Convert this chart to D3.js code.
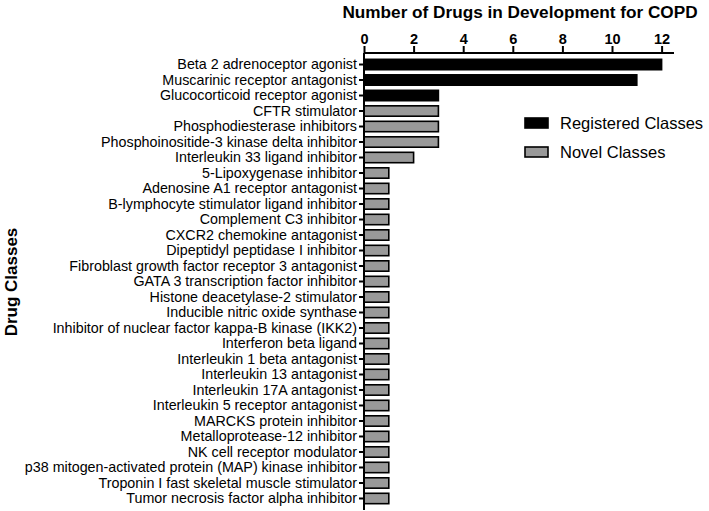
<html>
<head>
<script src="https://cdn.jsdelivr.net/npm/d3@7"></script>
<style>
  body { margin: 0; background: #fff; }
  text { font-family: "Liberation Sans", Arial, sans-serif; }
</style>
</head>
<body>
<svg width="709" height="511"></svg>
<script>
const categories = [
  "Beta 2 adrenoceptor agonist",
  "Muscarinic receptor antagonist",
  "Glucocorticoid receptor agonist",
  "CFTR stimulator",
  "Phosphodiesterase inhibitors",
  "Phosphoinositide-3 kinase delta inhibitor",
  "Interleukin 33 ligand inhibitor",
  "5-Lipoxygenase inhibitor",
  "Adenosine A1 receptor antagonist",
  "B-lymphocyte stimulator ligand inhibitor",
  "Complement C3 inhibitor",
  "CXCR2 chemokine antagonist",
  "Dipeptidyl peptidase I inhibitor",
  "Fibroblast growth factor receptor 3 antagonist",
  "GATA 3 transcription factor inhibitor",
  "Histone deacetylase-2 stimulator",
  "Inducible nitric oxide synthase",
  "Inhibitor of nuclear factor kappa-B kinase (IKK2)",
  "Interferon beta ligand",
  "Interleukin 1 beta antagonist",
  "Interleukin 13 antagonist",
  "Interleukin 17A antagonist",
  "Interleukin 5 receptor antagonist",
  "MARCKS protein inhibitor",
  "Metalloprotease-12 inhibitor",
  "NK cell receptor modulator",
  "p38 mitogen-activated protein (MAP) kinase inhibitor",
  "Troponin I fast skeletal muscle stimulator",
  "Tumor necrosis factor alpha inhibitor"
]
const counts = [12, 11, 3, 3, 3, 3, 2, 1, 1, 1, 1, 1, 1, 1, 1, 1, 1, 1, 1, 1, 1, 1, 1, 1, 1, 1, 1, 1, 1]
const classType = ["Registered", "Registered", "Registered",
  "Novel", "Novel", "Novel", "Novel", "Novel", "Novel", "Novel", "Novel", "Novel", "Novel", "Novel", "Novel",
  "Novel", "Novel", "Novel", "Novel", "Novel", "Novel", "Novel", "Novel", "Novel", "Novel", "Novel", "Novel",
  "Novel", "Novel"]
const xTicks = [0, 2, 4, 6, 8, 10, 12]
const legendKeys = ["Registered", "Novel"]
const legendLabels = ["Registered Classes", "Novel Classes"]

const svg = d3.select("svg")
const fillFor = {Registered: "#000000", Novel: "#999999"}

const plotLeft = 364, plotRight = 674, plotTop = 53, plotBottom = 506

const x = d3.scaleLinear().domain([0, 12.5]).range([plotLeft, plotRight])
const y = d3.scaleBand().domain(categories).range([plotTop + 4, plotBottom]).paddingInner(0.33).paddingOuter(0.15)

const rows = categories.map((c, i) => ({name: c, value: counts[i], type: classType[i]}))

// bars
svg.append("g").selectAll("rect").data(rows).join("rect")
  .attr("x", x(0))
  .attr("y", d => y(d.name))
  .attr("width", d => x(d.value) - x(0))
  .attr("height", y.bandwidth())
  .attr("fill", d => fillFor[d.type])
  .attr("stroke", "#000")
  .attr("stroke-width", 1.6)

// top axis
const xAxis = svg.append("g").attr("transform", `translate(0,${plotTop})`)
  .call(d3.axisTop(x).tickValues(xTicks).tickSize(7).tickSizeOuter(0).tickPadding(2))
xAxis.select(".domain").attr("stroke-width", 2).attr("d", `M${plotLeft},0H${plotRight}`)
xAxis.selectAll(".tick line").attr("stroke-width", 2)
xAxis.selectAll(".tick text").attr("font-size", 14.5).attr("font-weight", "bold")
  .attr("font-family", "Liberation Sans, Arial, sans-serif").attr("fill", "#000")

// left axis
const yAxis = svg.append("g").attr("transform", `translate(${plotLeft},0)`)
  .call(d3.axisLeft(y).tickSize(5).tickSizeOuter(0).tickPadding(2))
yAxis.select(".domain").attr("stroke-width", 2).attr("d", `M0,${plotTop}V${plotBottom + 4}`)
yAxis.selectAll(".tick line").attr("stroke-width", 2)
yAxis.selectAll(".tick text").attr("font-size", 14.3)
  .attr("font-family", "Liberation Sans, Arial, sans-serif").attr("fill", "#000")

// titles
svg.append("text").attr("x", 520).attr("y", 18).attr("text-anchor", "middle")
  .attr("font-size", 17.2).attr("font-weight", "bold")
  .text("Number of Drugs in Development for COPD")

svg.append("text").attr("transform", "translate(17,282) rotate(-90)").attr("text-anchor", "middle")
  .attr("font-size", 17).attr("font-weight", "bold")
  .text("Drug Classes")

// legend
const legend = svg.append("g").selectAll("g").data(legendKeys).join("g")
  .attr("transform", (d, i) => `translate(525,${118 + i * 29})`)
legend.append("rect").attr("width", 23).attr("height", 10)
  .attr("fill", d => fillFor[d]).attr("stroke", "#000").attr("stroke-width", 1.6)
legend.append("text").attr("x", 35).attr("y", 5).attr("dy", "0.35em")
  .attr("font-size", 16.5).text((d, i) => legendLabels[i])
</script>
</body>
</html>
